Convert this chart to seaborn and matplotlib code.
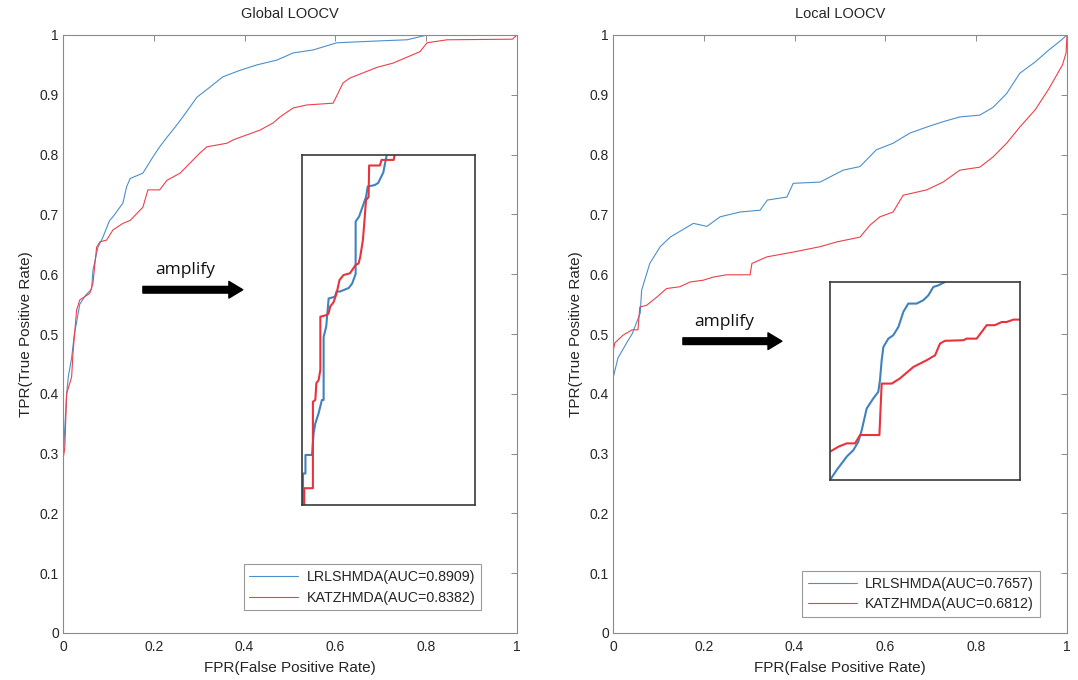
import numpy as np
import pandas as pd
import matplotlib
matplotlib.use("Agg")
import matplotlib.pyplot as plt
import seaborn as sns

# ---- Global LOOCV ROC curves ----
global_lrls_fpr = [0, 0.003, 0.008, 0.012, 0.019, 0.025, 0.03, 0.037, 0.05, 0.063, 0.066, 0.077,
                   0.088, 0.1, 0.103, 0.11, 0.132, 0.14, 0.148, 0.176, 0.198, 0.213, 0.229, 0.247,
                   0.264, 0.28, 0.295, 0.324, 0.352, 0.39, 0.427, 0.471, 0.507, 0.551, 0.603, 0.692,
                   0.758, 0.802, 1.0]
global_lrls_tpr = [0.29, 0.33, 0.40, 0.43, 0.46, 0.50, 0.52, 0.55, 0.565, 0.575, 0.607, 0.645,
                   0.662, 0.685, 0.69, 0.696, 0.719, 0.746, 0.76, 0.769, 0.796, 0.813, 0.829, 0.846,
                   0.863, 0.88, 0.896, 0.913, 0.93, 0.941, 0.95, 0.958, 0.97, 0.975, 0.987, 0.99,
                   0.992, 1.0, 1.0]
global_katz_fpr = [0, 0.004, 0.008, 0.019, 0.022, 0.03, 0.037, 0.059, 0.066, 0.074, 0.081, 0.096,
                   0.11, 0.132, 0.148, 0.176, 0.187, 0.213, 0.229, 0.258, 0.28, 0.302, 0.317, 0.361,
                   0.376, 0.434, 0.463, 0.478, 0.507, 0.537, 0.595, 0.617, 0.632, 0.692, 0.727, 0.758,
                   0.786, 0.802, 0.846, 0.99, 1.0]
global_katz_tpr = [0.29, 0.31, 0.40, 0.428, 0.468, 0.54, 0.557, 0.568, 0.585, 0.645, 0.654, 0.657,
                   0.674, 0.685, 0.69, 0.712, 0.741, 0.741, 0.757, 0.769, 0.786, 0.803, 0.813, 0.819,
                   0.825, 0.841, 0.853, 0.863, 0.878, 0.883, 0.886, 0.92, 0.928, 0.946, 0.953, 0.963,
                   0.972, 0.987, 0.992, 0.993, 1.0]

# ---- Local LOOCV ROC curves ----
local_lrls_fpr = [0, 0.011, 0.03, 0.042, 0.06, 0.063, 0.081, 0.104, 0.126, 0.177, 0.207, 0.236,
                  0.28, 0.324, 0.34, 0.383, 0.397, 0.456, 0.507, 0.544, 0.58, 0.617, 0.654, 0.691,
                  0.727, 0.764, 0.808, 0.837, 0.867, 0.896, 0.93, 0.96, 0.985, 1.0]
local_lrls_tpr = [0.426, 0.46, 0.485, 0.50, 0.535, 0.573, 0.618, 0.646, 0.662, 0.685, 0.68, 0.696,
                  0.704, 0.707, 0.724, 0.729, 0.752, 0.754, 0.774, 0.78, 0.808, 0.819, 0.836, 0.846,
                  0.855, 0.863, 0.866, 0.879, 0.902, 0.936, 0.955, 0.975, 0.99, 1.0]
local_katz_fpr = [0, 0.004, 0.022, 0.042, 0.055, 0.059, 0.074, 0.097, 0.118, 0.147, 0.17, 0.199,
                  0.22, 0.25, 0.302, 0.306, 0.339, 0.397, 0.456, 0.493, 0.544, 0.566, 0.588, 0.617,
                  0.639, 0.691, 0.727, 0.764, 0.808, 0.837, 0.867, 0.896, 0.93, 0.96, 0.99, 0.998, 1.0]
local_katz_tpr = [0.47, 0.485, 0.498, 0.507, 0.507, 0.545, 0.548, 0.562, 0.576, 0.579, 0.587, 0.59,
                  0.595, 0.599, 0.599, 0.618, 0.629, 0.637, 0.646, 0.654, 0.662, 0.682, 0.696, 0.704,
                  0.732, 0.741, 0.754, 0.774, 0.779, 0.796, 0.819, 0.846, 0.875, 0.91, 0.95, 0.97, 1.0]

# ---- zoomed ("amplify") views, in the inset's own 0-1 frame ----
gzoom_lrls_x = [0.006, 0.006, 0.02, 0.02, 0.058, 0.067, 0.077, 0.096, 0.115, 0.125, 0.125, 0.14,
                0.154, 0.19, 0.2, 0.22, 0.27, 0.29, 0.31, 0.31, 0.33, 0.37, 0.38, 0.42, 0.44, 0.45,
                0.47, 0.48, 0.49]
gzoom_lrls_y = [0, 0.09, 0.09, 0.143, 0.143, 0.205, 0.233, 0.262, 0.3, 0.3, 0.48, 0.51,
                0.59, 0.595, 0.61, 0.61, 0.62, 0.633, 0.66, 0.81, 0.824, 0.88, 0.91, 0.914, 0.92, 0.93,
                0.95, 0.976, 1.0]
gzoom_katz_x = [0.013, 0.013, 0.063, 0.063, 0.077, 0.083, 0.096, 0.106, 0.106, 0.144, 0.154, 0.163,
                0.183, 0.2, 0.217, 0.24, 0.277, 0.31, 0.327, 0.337, 0.352, 0.36, 0.37, 0.385, 0.388,
                0.45, 0.46, 0.53, 0.535]
gzoom_katz_y = [0, 0.048, 0.048, 0.295, 0.3, 0.348, 0.357, 0.386, 0.538, 0.543, 0.548, 0.567,
                0.58, 0.605, 0.643, 0.657, 0.662, 0.686, 0.69, 0.71, 0.757, 0.805, 0.871, 0.88, 0.97,
                0.97, 0.986, 0.986, 1.0]
lzoom_lrls_x = [0, 0.035, 0.088, 0.123, 0.149, 0.167, 0.193, 0.228, 0.254, 0.263, 0.272, 0.281,
                0.307, 0.333, 0.36, 0.386, 0.412, 0.456, 0.491, 0.518, 0.544, 0.57, 0.605]
lzoom_lrls_y = [0, 0.05, 0.118, 0.151, 0.193, 0.252, 0.361, 0.412, 0.445, 0.504, 0.605, 0.672,
                0.714, 0.731, 0.773, 0.849, 0.891, 0.891, 0.908, 0.933, 0.975, 0.983, 1.0]
lzoom_katz_x = [0, 0.044, 0.088, 0.132, 0.158, 0.246, 0.26, 0.272, 0.325, 0.368, 0.439, 0.509,
                0.553, 0.579, 0.605, 0.702, 0.719, 0.772, 0.825, 0.868, 0.904, 0.93, 0.965, 1.0]
lzoom_katz_y = [0.143, 0.168, 0.185, 0.185, 0.227, 0.227, 0.227, 0.487, 0.487, 0.513, 0.571, 0.605,
                0.63, 0.689, 0.703, 0.706, 0.714, 0.714, 0.782, 0.782, 0.798, 0.798, 0.81, 0.81]

global_labels = ["LRLSHMDA(AUC=0.8909)", "KATZHMDA(AUC=0.8382)"]
local_labels = ["LRLSHMDA(AUC=0.7657)", "KATZHMDA(AUC=0.6812)"]
titles = ["Global LOOCV", "Local LOOCV"]

BLUE = "#4a90cc"
RED = "#ee3f4a"
GRID = "#8a8a8a"

sns.set_style("white")
plt.rcParams['font.family'] = ['Liberation Sans', 'DejaVu Sans']
plt.rcParams['text.color'] = '#262626'

fig = plt.figure(figsize=(10.78, 6.8), dpi=100)
W, H = 1078.0, 680.0


def px_axes(x0, y0, x1, y1):
    # axes rectangle given in picture pixels (top-left origin)
    return fig.add_axes([x0 / W, 1 - y1 / H, (x1 - x0) / W, (y1 - y0) / H])


def curve(ax, xs, ys, color, lw, label=None):
    assert len(xs) == len(ys)
    df = pd.DataFrame({"x": xs, "y": ys})
    sns.lineplot(data=df, x="x", y="y", ax=ax, color=color, linewidth=lw,
                 sort=False, estimator=None, label=label, legend=False)


def style_main(ax, title):
    ax.set_xlim(0, 1)
    ax.set_ylim(0, 1)
    ax.set_xticks(np.arange(0, 1.01, 0.2))
    ax.set_yticks(np.arange(0, 1.01, 0.1))
    ax.set_xticklabels(["0", "0.2", "0.4", "0.6", "0.8", "1"])
    ax.set_yticklabels(["0"] + [f"{v:.1f}" for v in np.arange(0.1, 0.95, 0.1)] + ["1"])
    ax.tick_params(direction="in", length=4, width=0.7, color=GRID, labelsize=10,
                   labelcolor="#262626", top=True, right=True, pad=3)
    ax.tick_params(axis="x", pad=5)
    for s in ax.spines.values():
        s.set_color(GRID)
        s.set_linewidth(0.8)
    ax.set_xlabel("FPR(False Positive Rate)", fontsize=11, labelpad=5)
    ax.set_ylabel("TPR(True Positive Rate)", fontsize=11, labelpad=5)
    ax.set_title(title, fontsize=10.5, pad=12)


def style_inset(ax):
    ax.set_xlim(0, 1)
    ax.set_ylim(0, 1)
    ax.set_xticks([])
    ax.set_yticks([])
    ax.set_xlabel("")
    ax.set_ylabel("")
    for s in ax.spines.values():
        s.set_color("#3a3a3a")
        s.set_linewidth(1.2)


def legend(ax, right, bottom):
    leg = ax.legend(loc="lower right", bbox_to_anchor=(right, bottom), fontsize=10.3,
                    frameon=True, fancybox=False, framealpha=1, edgecolor="#9a9a9a",
                    handlelength=3.4, handletextpad=0.6, borderpad=0.4, labelspacing=0.45,
                    borderaxespad=0)
    leg.get_frame().set_linewidth(0.8)


def amplify_arrow(ax, x0, x1, y, tx, ty):
    ax.annotate("", xy=(x1, y), xytext=(x0, y), xycoords="axes fraction",
                arrowprops=dict(facecolor="black", edgecolor="black", width=4.8,
                                headwidth=12, headlength=10, shrink=0))
    ax.text(tx, ty, "amplify", transform=ax.transAxes, ha="center", va="center",
            fontsize=12.5, family=["Open Sans", "DejaVu Sans"], color="#111111")


# ---- left: Global LOOCV ----
ax1 = px_axes(63, 35, 517, 633)
curve(ax1, global_lrls_fpr, global_lrls_tpr, BLUE, 0.8, global_labels[0])
curve(ax1, global_katz_fpr, global_katz_tpr, RED, 0.8, global_labels[1])
style_main(ax1, titles[0])
legend(ax1, 0.921, 0.038)
amplify_arrow(ax1, 0.176, 0.396, 0.574, 0.27, 0.607)

in1 = px_axes(302, 155, 475, 505)
curve(in1, gzoom_lrls_x, gzoom_lrls_y, "#3f82bd", 1.5)
curve(in1, gzoom_katz_x, gzoom_katz_y, "#e8323c", 1.5)
style_inset(in1)

# ---- right: Local LOOCV ----
ax2 = px_axes(613, 35, 1067, 633)
curve(ax2, local_lrls_fpr, local_lrls_tpr, BLUE, 0.8, local_labels[0])
curve(ax2, local_katz_fpr, local_katz_tpr, RED, 0.8, local_labels[1])
style_main(ax2, titles[1])
legend(ax2, 0.94, 0.027)
amplify_arrow(ax2, 0.154, 0.372, 0.488, 0.245, 0.52)

in2 = px_axes(830, 282, 1020, 480)
curve(in2, lzoom_lrls_x, lzoom_lrls_y, "#3f82bd", 1.5)
curve(in2, lzoom_katz_x, lzoom_katz_y, "#e8323c", 1.5)
style_inset(in2)

fig.savefig("out.png", dpi=100)
print("saved out.png")
